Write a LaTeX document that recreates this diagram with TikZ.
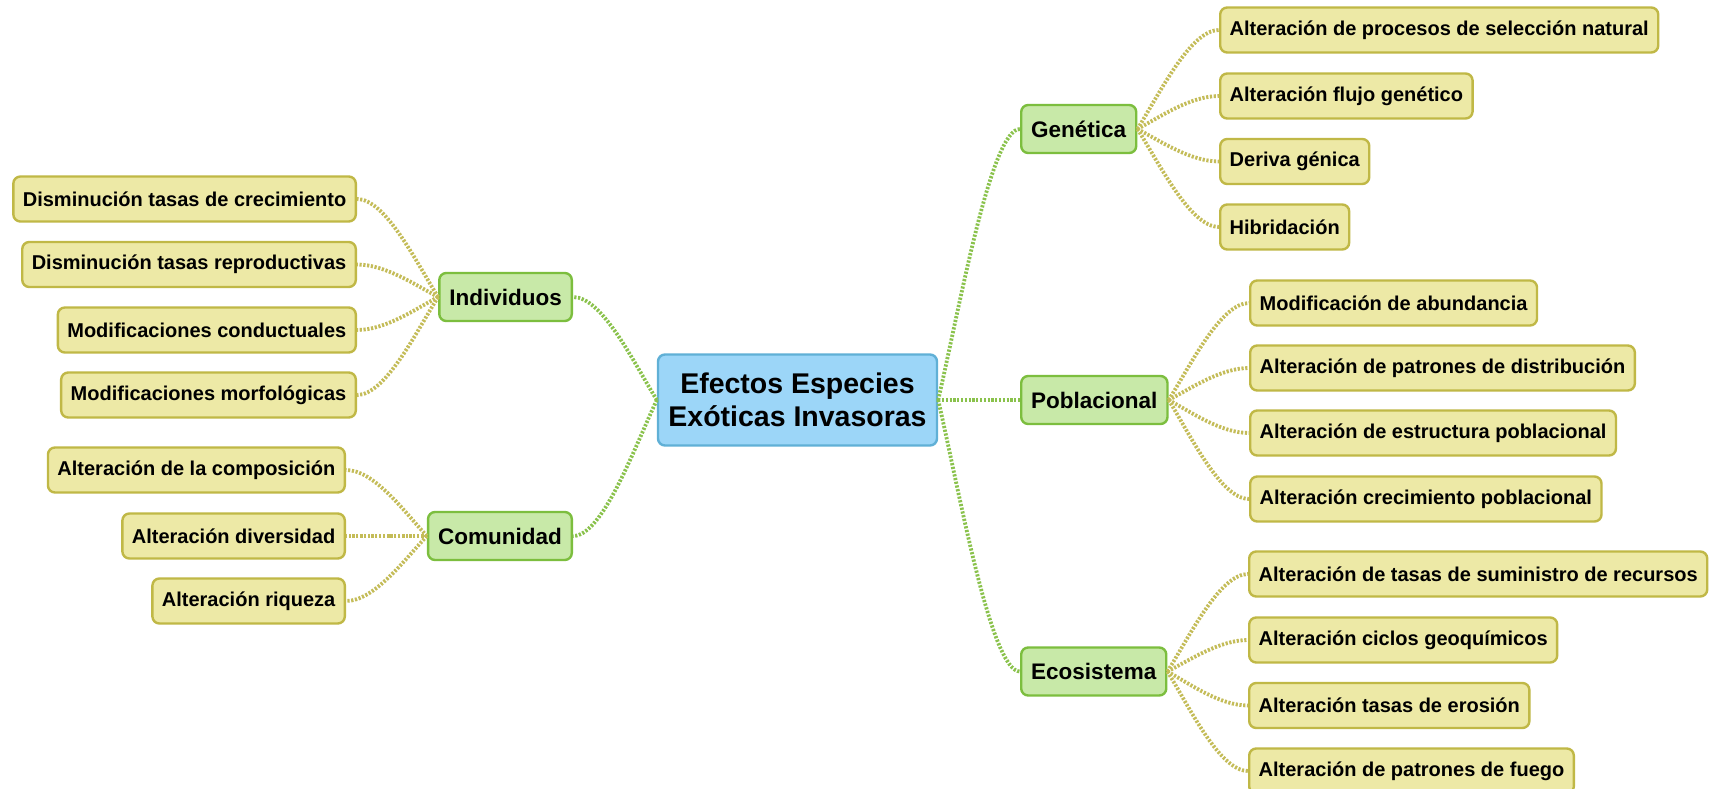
\documentclass[tikz,border=0pt]{standalone}
\usepackage{fontspec}
\setmainfont{Liberation Sans}
\usetikzlibrary{calc}
\definecolor{cfill}{RGB}{156,214,248}
\definecolor{cdraw}{RGB}{96,176,214}
\definecolor{gfill}{RGB}{200,233,168}
\definecolor{gdraw}{RGB}{124,190,62}
\definecolor{lfill}{RGB}{237,233,166}
\definecolor{ldraw}{RGB}{192,184,70}
\definecolor{glink}{RGB}{138,194,76}
\definecolor{llink}{RGB}{196,188,88}
\tikzset{
 box/.style={rounded corners=7pt, line width=2.4pt, text=black},
 root/.style={box, fill=cfill, draw=cdraw, minimum width=279pt, minimum height=91pt, align=center, font=\bfseries\fontsize{28.5}{33}\selectfont},
 topic/.style={box, fill=gfill, draw=gdraw, minimum height=48pt, inner xsep=10pt, font=\bfseries\fontsize{22.5}{26}\selectfont},
 leaf/.style={box, fill=lfill, draw=ldraw, minimum height=45pt, inner xsep=9.5pt, font=\bfseries\fontsize{20}{24}\selectfont},
 link/.style={line width=3.8pt, dash pattern=on 2.2pt off 1.6pt},
 mainlink/.style={link, draw=glink},
 leaflink/.style={link, draw=llink},
 mm/.style={to path={let \p1=(\tikztostart), \p2=(\tikztotarget) in .. controls +({0.28*(\x2-\x1)},{0.37*(\y2-\y1)}) and +({-0.35*(\x2-\x1)},{0pt}) .. (\tikztotarget)}},
}
\begin{document}
\begin{tikzpicture}[x=1pt,y=-1pt]
\useasboundingbox[fill=white] (0,0) rectangle (1719,789);
% root and topics
\node[root] (c) at (797.5,400) {Efectos Especies\\Exóticas Invasoras};
\node[topic, anchor=west] (gen) at (1020,129) {Genética};
\node[topic, anchor=west] (pob) at (1020,400) {Poblacional};
\node[topic, anchor=west] (eco) at (1020,671.5) {Ecosistema};
\node[topic, anchor=east] (ind) at (573,297) {Individuos};
\node[topic, anchor=east] (com) at (573,536) {Comunidad};
% Genetica leaves
\node[leaf, anchor=west] (g1) at (1219,30) {Alteración de procesos de selección natural};
\node[leaf, anchor=west] (g2) at (1219,96) {Alteración flujo genético};
\node[leaf, anchor=west] (g3) at (1219,161.5) {Deriva génica};
\node[leaf, anchor=west] (g4) at (1219,227) {Hibridación};
% Poblacional leaves
\node[leaf, anchor=west] (p1) at (1249,303) {Modificación de abundancia};
\node[leaf, anchor=west] (p2) at (1249,368) {Alteración de patrones de distribución};
\node[leaf, anchor=west] (p3) at (1249,433) {Alteración de estructura poblacional};
\node[leaf, anchor=west] (p4) at (1249,499) {Alteración crecimiento poblacional};
% Ecosistema leaves
\node[leaf, anchor=west] (e1) at (1248,574) {Alteración de tasas de suministro de recursos};
\node[leaf, anchor=west] (e2) at (1248,640) {Alteración ciclos geoquímicos};
\node[leaf, anchor=west] (e3) at (1248,705.5) {Alteración tasas de erosión};
\node[leaf, anchor=west] (e4) at (1248,771) {Alteración de patrones de fuego};
% Individuos leaves
\node[leaf, anchor=east] (i1) at (357,199) {Disminución tasas de crecimiento};
\node[leaf, anchor=east] (i2) at (357,264.5) {Disminución tasas reproductivas};
\node[leaf, anchor=east] (i3) at (357,330) {Modificaciones conductuales};
\node[leaf, anchor=east] (i4) at (357,395) {Modificaciones morfológicas};
% Comunidad leaves
\node[leaf, anchor=east] (k1) at (346,470) {Alteración de la composición};
\node[leaf, anchor=east] (k2) at (346,536) {Alteración diversidad};
\node[leaf, anchor=east] (k3) at (346,601) {Alteración riqueza};
% main links
\draw[mainlink] (c.east) to[mm] (gen.west);
\draw[mainlink] (c.east) -- (pob.west);
\draw[mainlink] (c.east) to[mm] (eco.west);
\draw[mainlink] (c.west) to[mm] (ind.east);
\draw[mainlink] (c.west) to[mm] (com.east);
% leaf links
\foreach \l in {g1,g2,g3,g4} \draw[leaflink] (gen.east) to[mm] (\l.west);
\foreach \l in {p1,p2,p3,p4} \draw[leaflink] (pob.east) to[mm] (\l.west);
\foreach \l in {e1,e2,e3,e4} \draw[leaflink] (eco.east) to[mm] (\l.west);
\foreach \l in {i1,i2,i3,i4} \draw[leaflink] (ind.west) to[mm] (\l.east);
\foreach \l in {k1,k2,k3} \draw[leaflink] (com.west) to[mm] (\l.east);
\end{tikzpicture}
\end{document}
